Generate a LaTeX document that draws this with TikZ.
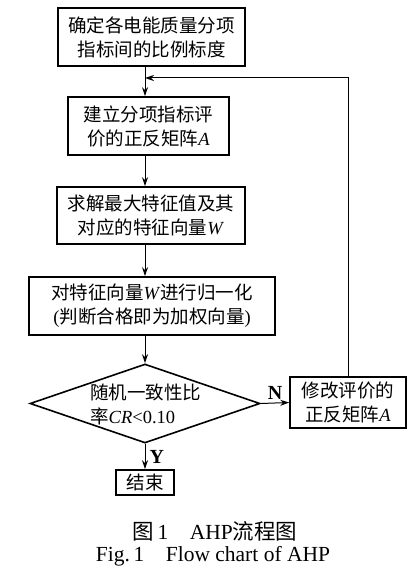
\documentclass[tikz,border=0pt]{standalone}
\usepackage{fontspec}
\setmainfont{Liberation Serif}
\newfontfamily\cjk{Noto Sans CJK SC}
\usetikzlibrary{shapes.geometric,arrows.meta}
\newcommand{\zh}[1]{{\cjk #1}}
\begin{document}
\begin{tikzpicture}[x=1bp,y=-1bp,
  every node/.style={font=\fontsize{18.5bp}{24bp}\selectfont},
  procbox/.style={draw,line width=1.6bp,inner sep=0pt,align=center},
  caption/.style={font=\fontsize{21.5bp}{26bp}\selectfont},
  yn/.style={font=\fontsize{20bp}{24bp}\selectfont\bfseries},
  arr/.style={line width=1bp,-{Stealth[length=9bp,width=6bp]}},
  lin/.style={line width=1bp}]
\useasboundingbox (0,0) rectangle (416,582);
\coordinate (sp) at (145,0);
\node[procbox,minimum width=187bp,minimum height=58bp] (b1) at (151.5,37) {\zh{确定各电能质量分项}\\\zh{指标间的比例标度}};
\node[procbox,minimum width=161bp,minimum height=58bp] (b2) at (148.5,126) {\zh{建立分项指标评}\\\zh{价的正反矩阵}\textit{A}};
\node[procbox,minimum width=188bp,minimum height=57bp] (b3) at (151,215.5) {\zh{求解最大特征值及其}\\\zh{对应的特征向量}\textit{W}};
\node[procbox,minimum width=246bp,minimum height=58bp] (b4) at (152,306) {\zh{对特征向量}\textit{W}\zh{进行归一化}\\(\zh{判断合格即为加权向量})};
\node[draw,diamond,line width=1.6bp,inner sep=0pt,minimum width=230bp,minimum height=79bp] (dec) at (145,403.5) {};
\node[anchor=west,align=left,inner sep=0pt] (dect) at ([xshift=-55bp,yshift=-1bp]dec.center) {\zh{随机一致性比}\\\zh{率}\textit{CR}<0.10};
\node[procbox,minimum width=116bp,minimum height=51bp] (nb) at (348,402.5) {\zh{修改评价的}\\\zh{正反矩阵}\textit{A}};
\node[procbox,minimum width=58bp,minimum height=25bp] (end) at (145,482.5) {\zh{结束}};
\coordinate (merge) at (145,78);
\draw[arr] (b1.south -| sp) -- (b2.north -| sp);
\draw[arr] (b2.south -| sp) -- (b3.north -| sp);
\draw[arr] (b3.south -| sp) -- (b4.north -| sp);
\draw[arr] (b4.south -| sp) -- (dec.north);
\draw[arr] (dec.east) -- (nb.west) node[midway,above=2bp,inner sep=1bp,yn] (nl) {N};
\draw[arr] (dec.south) -- (end.north) node[midway,right=4bp,inner sep=0pt,yn] (yl) {Y};
\draw[arr] (nb.north) |- (merge);
\node[caption] (cap1) at (215,531) {\zh{图}\,1\quad AHP\zh{流程图}};
\node[caption] (cap2) at (213,556) {Fig.\,1\quad Flow chart of AHP};
\end{tikzpicture}
\end{document}
